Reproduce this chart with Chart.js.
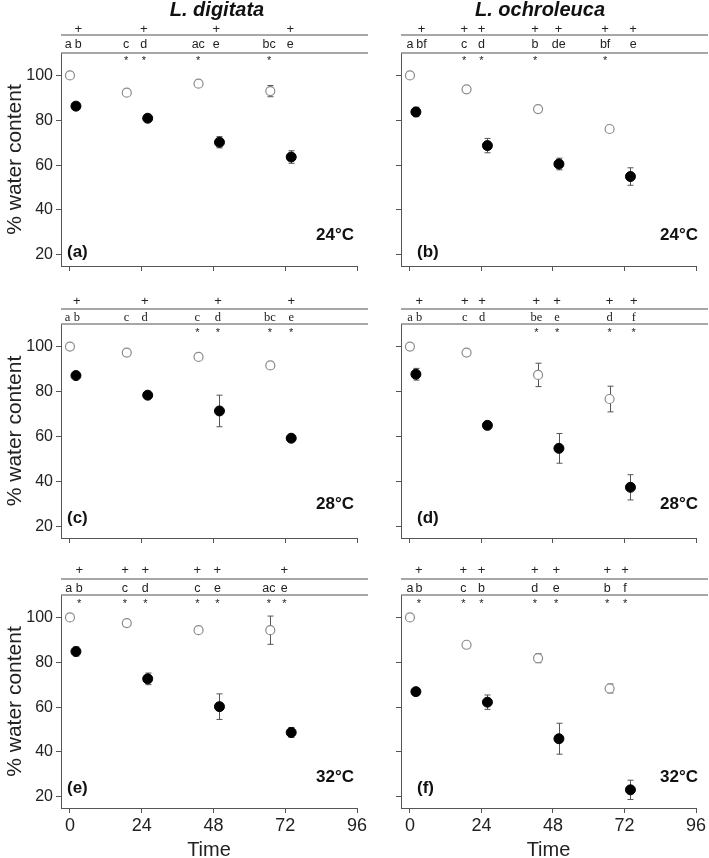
<!DOCTYPE html>
<html>
<head>
<meta charset="utf-8">
<script src="https://cdn.jsdelivr.net/npm/chart.js@4.4.1/dist/chart.umd.min.js"></script>
<style>
  body { margin: 0; background: #fff; width: 709px; height: 858px; position: relative; overflow: hidden; }
  canvas { position: absolute; }
</style>
</head>
<body>
<canvas id="pa"></canvas>
<canvas id="pb"></canvas>
<canvas id="pc"></canvas>
<canvas id="pd"></canvas>
<canvas id="pe"></canvas>
<canvas id="pf"></canvas>
<script>
var xTicks = [0, 24, 48, 72, 96];
var yTicks = [20, 40, 60, 80, 100];
var openTimes = [0, 19, 43, 67];
var closedTimes = [2, 26, 50, 74];

// (a) L. digitata, 24°C
var openA = [100, 92.3, 96.3, 93.0];
var openErrA = [0, 0, 0, 2.5];
var closedA = [86.3, 80.9, 70.2, 63.6];
var closedErrA = [1.0, 1.0, 2.5, 2.8];
var slotsA = [-0.6, 2.8, 18.8, 24.7, 42.9, 48.9, 66.6, 73.7];
var lettersA = ['a', 'b', 'c', 'd', 'ac', 'e', 'bc', 'e'];
var plusA = [0, 1, 0, 1, 0, 1, 0, 1];
var starA = [0, 0, 1, 1, 1, 0, 1, 0];

// (b) L. ochroleuca, 24°C
var openB = [100, 93.8, 85.0, 76.1];
var openErrB = [0, 0, 0, 0];
var closedB = [83.7, 68.7, 60.5, 54.9];
var closedErrB = [2.1, 3.2, 2.6, 3.9];
var slotsB = [0, 3.9, 18.2, 24, 42, 49.9, 65.5, 74.9];
var lettersB = ['a', 'bf', 'c', 'd', 'b', 'de', 'bf', 'e'];
var plusB = [0, 1, 1, 1, 1, 1, 1, 1];
var starB = [0, 0, 1, 1, 1, 0, 1, 0];

// (c) L. digitata, 28°C
var openC = [100, 97.3, 95.4, 91.6];
var openErrC = [0, 0, 0, 0];
var closedC = [87.1, 78.4, 71.4, 59.3];
var closedErrC = [0, 0, 7.0, 0];
var slotsC = [-0.8, 2.3, 18.9, 25, 42.6, 49.5, 66.9, 74];
var lettersC = ['a', 'b', 'c', 'd', 'c', 'd', 'bc', 'e'];
var plusC = [0, 1, 0, 1, 0, 1, 0, 1];
var starC = [0, 0, 0, 0, 1, 1, 1, 1];

// (d) L. ochroleuca, 28°C
var openD = [100, 97.3, 87.4, 76.7];
var openErrD = [0, 0, 5.2, 5.7];
var closedD = [87.7, 65.0, 54.8, 37.5];
var closedErrD = [2.6, 0, 6.6, 5.6];
var slotsD = [0, 3.1, 18.4, 24.2, 42.4, 49.4, 67, 75.1];
var lettersD = ['a', 'b', 'c', 'd', 'be', 'e', 'd', 'f'];
var plusD = [0, 1, 1, 1, 1, 1, 1, 1];
var starD = [0, 0, 0, 0, 1, 1, 1, 1];

// (e) L. digitata, 32°C
var openE = [100, 97.5, 94.3, 94.3];
var openErrE = [0, 0, 0, 6.3];
var closedE = [84.8, 72.6, 60.2, 48.7];
var closedErrE = [2.0, 2.6, 5.7, 2.2];
var slotsE = [-0.4, 3.1, 18.4, 25.2, 42.6, 49.3, 66.5, 71.7];
var lettersE = ['a', 'b', 'c', 'd', 'c', 'e', 'ac', 'e'];
var plusE = [0, 1, 1, 1, 1, 1, 0, 1];
var starE = [0, 1, 1, 1, 1, 1, 1, 1];

// (f) L. ochroleuca, 32°C
var openF = [100, 87.8, 81.8, 68.3];
var openErrF = [0, 0, 2.0, 2.0];
var closedF = [66.9, 62.2, 45.9, 23.1];
var closedErrF = [0, 3.2, 6.9, 4.3];
var slotsF = [0, 3, 17.9, 24, 41.9, 49.1, 66.2, 72.2];
var lettersF = ['a', 'b', 'c', 'b', 'd', 'e', 'b', 'f'];
var plusF = [0, 1, 1, 1, 1, 1, 1, 1];
var starF = [0, 1, 1, 1, 1, 1, 1, 1];

var SANS = "'Liberation Sans', Arial, sans-serif";
var SERIF = "'Liberation Serif', 'Times New Roman', serif";

function pts(times, vals) {
  return times.map(function(t, i) { return {x: t, y: vals[i]}; });
}

// vertical error bars with small caps
var errorBars = {
  id: 'errorBars',
  beforeDatasetsDraw: function(chart) {
    var ctx = chart.ctx, xs = chart.scales.x, ys = chart.scales.y;
    ctx.save();
    ctx.strokeStyle = '#555';
    ctx.lineWidth = 1;
    chart.data.datasets.forEach(function(ds) {
      ds.data.forEach(function(p, i) {
        var e = ds.errors[i];
        if (!e) return;
        var px = Math.round(xs.getPixelForValue(p.x)) + 0.5;
        var y1 = ys.getPixelForValue(p.y + e), y2 = ys.getPixelForValue(p.y - e);
        ctx.beginPath();
        ctx.moveTo(px, y1); ctx.lineTo(px, y2);
        ctx.moveTo(px - 3, y1); ctx.lineTo(px + 3, y1);
        ctx.moveTo(px - 3, y2); ctx.lineTo(px + 3, y2);
        ctx.stroke();
      });
    });
    ctx.restore();
  }
};

// significance letters, + and * rows, frame lines, panel texts
var marks = {
  id: 'marks',
  afterDraw: function(chart, args, o) {
    var ctx = chart.ctx, a = chart.chartArea, xs = chart.scales.x;
    var top = a.top;
    ctx.save();
    ctx.strokeStyle = '#8a8a8a';
    ctx.lineWidth = 1.5;
    ctx.beginPath();
    ctx.moveTo(a.left, top + o.lineOff); ctx.lineTo(o.lineEnd, top + o.lineOff);
    ctx.moveTo(a.left, top); ctx.lineTo(o.lineEnd, top);
    ctx.stroke();

    ctx.fillStyle = '#222';
    ctx.textAlign = 'center';
    ctx.textBaseline = 'middle';
    for (var i = 0; i < o.slots.length; i++) {
      var px = xs.getPixelForValue(o.slots[i]);
      ctx.font = '12.5px ' + o.family;
      ctx.fillText(o.letters[i], px, top + o.letterOff);
      if (o.plus[i]) {
        ctx.font = '13px ' + SANS;
        ctx.fillText('+', px, top + o.plusOff);
      }
      if (o.star[i]) {
        ctx.font = '11px ' + SANS;
        ctx.fillText('*', px, top + o.starOff);
      }
    }

    if (o.title) {
      ctx.font = 'italic bold 20px ' + SANS;
      ctx.fillStyle = '#111';
      ctx.fillText(o.title, o.titleX, 10);
    }
    ctx.fillStyle = '#111';
    ctx.font = 'bold 17px ' + SANS;
    ctx.textAlign = 'left';
    ctx.fillText(o.label, o.labelX, o.labelY);
    ctx.textAlign = 'right';
    ctx.fillText(o.temp, o.tempX, o.tempY);
    ctx.restore();
  }
};

function makePanel(id, p) {
  var cv = document.getElementById(id);
  cv.width = p.w; cv.height = p.h;
  cv.style.left = p.left + 'px'; cv.style.top = p.top + 'px';
  cv.style.width = p.w + 'px'; cv.style.height = p.h + 'px';
  new Chart(cv, {
    type: 'scatter',
    data: {
      datasets: [
        {
          data: pts(openTimes, p.open), errors: p.openErr,
          pointRadius: 4.5, pointBackgroundColor: '#fff', pointBorderColor: '#8a8a8a',
          pointBorderWidth: 1.2
        },
        {
          data: pts(closedTimes, p.closed), errors: p.closedErr,
          pointRadius: 5, pointBackgroundColor: '#000', pointBorderColor: '#000',
          pointBorderWidth: 1
        }
      ]
    },
    options: {
      responsive: false,
      animation: false,
      layout: { padding: { top: p.padTop, right: p.padRight, left: 0, bottom: 0 } },
      plugins: {
        legend: { display: false },
        tooltip: { enabled: false },
        marks: p.marks
      },
      scales: {
        x: {
          type: 'linear', min: -3, max: 96,
          afterBuildTicks: function(s) { s.ticks = xTicks.map(function(v) { return {value: v}; }); },
          afterFit: function(s) { s.height = p.xh; },
          grid: { drawOnChartArea: false, tickLength: 5, color: '#555' },
          border: { color: '#555' },
          ticks: { display: p.xLabels, color: '#222', padding: 2, font: { size: 18, family: SANS } },
          title: { display: p.xLabels, text: 'Time', color: '#222', padding: 0,
                   font: { size: 20, family: SANS, lineHeight: 1.2 } }
        },
        y: {
          type: 'linear', min: 15, max: 110,
          afterBuildTicks: function(s) { s.ticks = yTicks.map(function(v) { return {value: v}; }); },
          afterFit: function(s) { s.width = p.yw; },
          grid: { drawOnChartArea: false, tickLength: 5, color: '#555' },
          border: { color: '#555' },
          ticks: { display: p.yLabels, color: '#222', padding: 3, font: { size: 16, family: SANS } },
          title: { display: p.yLabels, text: '% water content', color: '#222', padding: { top: 3, bottom: 0 },
                   font: { size: 21, family: SANS, lineHeight: 1.2 } }
        }
      }
    },
    plugins: [errorBars, marks]
  });
}

function markOpts(row, col, slots, letters, plus, star, label, temp, title) {
  var rowOffs = [
    { lineOff: -18, plusOff: -24, letterOff: -8, starOff: 8, labelY: 252, tempY: 235 },
    { lineOff: -15, plusOff: -23, letterOff: -6, starOff: 9, labelY: 238, tempY: 224 },
    { lineOff: -16, plusOff: -25, letterOff: -6, starOff: 9, labelY: 228, tempY: 217 }
  ][row];
  return {
    slots: slots, letters: letters, plus: plus, star: star,
    family: row === 1 ? SERIF : SANS,
    lineOff: rowOffs.lineOff, plusOff: rowOffs.plusOff,
    letterOff: rowOffs.letterOff, starOff: rowOffs.starOff,
    lineEnd: col === 0 ? 368 : 338,
    title: title, titleX: col === 0 ? 217 : 170,
    label: label, labelX: col === 0 ? 67 : 47, labelY: rowOffs.labelY,
    temp: temp, tempX: col === 0 ? 354 : 328, tempY: rowOffs.tempY
  };
}

var rowTop = [0, 280, 560];
var rowH = [280, 280, 302];
var rowPadTop = [53, 44, 35];
var rowXh = [14, 22, 54];

function panel(id, row, col, open, openErr, closed, closedErr, m) {
  makePanel(id, {
    left: col === 0 ? 0 : 370, top: rowTop[row],
    w: col === 0 ? 370 : 339, h: rowH[row],
    padTop: rowPadTop[row], padRight: 13,
    xh: rowXh[row], yw: col === 0 ? 61 : 31,
    xLabels: row === 2, yLabels: col === 0,
    open: open, openErr: openErr, closed: closed, closedErr: closedErr,
    marks: m
  });
}

panel('pa', 0, 0, openA, openErrA, closedA, closedErrA,
  markOpts(0, 0, slotsA, lettersA, plusA, starA, '(a)', '24°C', 'L. digitata'));
panel('pb', 0, 1, openB, openErrB, closedB, closedErrB,
  markOpts(0, 1, slotsB, lettersB, plusB, starB, '(b)', '24°C', 'L. ochroleuca'));
panel('pc', 1, 0, openC, openErrC, closedC, closedErrC,
  markOpts(1, 0, slotsC, lettersC, plusC, starC, '(c)', '28°C', null));
panel('pd', 1, 1, openD, openErrD, closedD, closedErrD,
  markOpts(1, 1, slotsD, lettersD, plusD, starD, '(d)', '28°C', null));
panel('pe', 2, 0, openE, openErrE, closedE, closedErrE,
  markOpts(2, 0, slotsE, lettersE, plusE, starE, '(e)', '32°C', null));
panel('pf', 2, 1, openF, openErrF, closedF, closedErrF,
  markOpts(2, 1, slotsF, lettersF, plusF, starF, '(f)', '32°C', null));
</script>
</body>
</html>
